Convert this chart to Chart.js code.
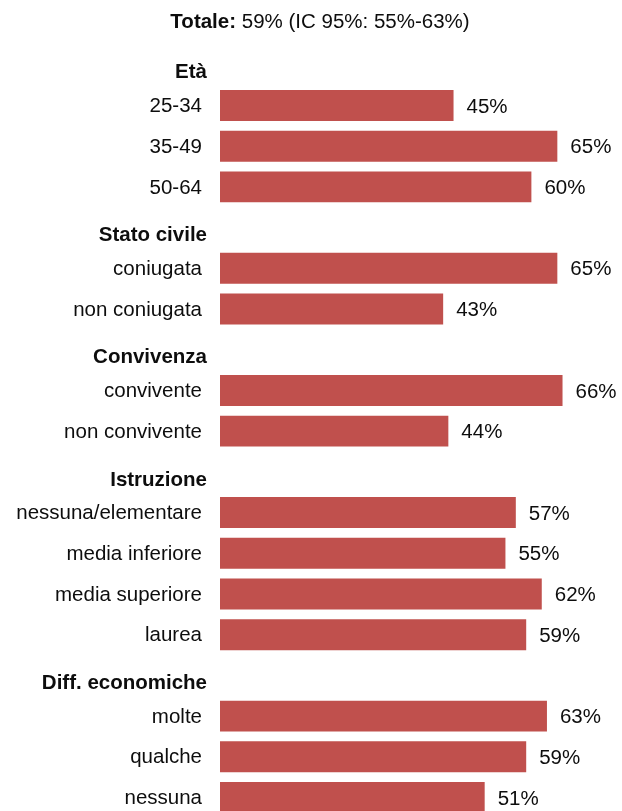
<!DOCTYPE html>
<html>
<head>
<meta charset="utf-8">
<script src="https://cdn.jsdelivr.net/npm/chart.js@4.4.0/dist/chart.umd.min.js"></script>
<style>
  html, body { margin: 0; padding: 0; background: #ffffff; overflow: hidden; }
  #wrap { position: relative; width: 622px; height: 822px; }
</style>
</head>
<body>
<div id="wrap"><canvas id="c"></canvas></div>
<script>
// ---- data ----
const categories = ["Età", "25-34", "35-49", "50-64",
  "Stato civile", "coniugata", "non coniugata",
  "Convivenza", "convivente", "non convivente",
  "Istruzione", "nessuna/elementare", "media inferiore", "media superiore", "laurea",
  "Diff. economiche", "molte", "qualche", "nessuna"];
const values = [null, 45, 65, 60,
  null, 65, 43,
  null, 66, 44,
  null, 57, 55, 62, 59,
  null, 63, 59, 51];
const isHeader = [true, false, false, false,
  true, false, false,
  true, false, false,
  true, false, false, false, false,
  true, false, false, false];
const titleBold = "Totale:";
const titleRest = " 59% (IC 95%: 55%-63%)";

const FONT = "'Liberation Sans', Arial, sans-serif";
const FS = "20.5px ";
const BAR = "#C0504D";
const TEXT = "#0d0d0d";

const labelsPlugin = {
  id: 'customLabels',
  afterDatasetsDraw(chart) {
    const ctx = chart.ctx;
    const y = chart.scales.y;
    const meta = chart.getDatasetMeta(0);
    ctx.save();
    ctx.textBaseline = 'middle';
    ctx.fillStyle = TEXT;
    // category labels
    categories.forEach((c, i) => {
      const py = y.getPixelForValue(i);
      ctx.textAlign = 'right';
      if (isHeader[i]) {
        ctx.font = "bold " + FS + FONT;
        ctx.fillText(c, 207, py + 8);
      } else {
        ctx.font = FS + FONT;
        ctx.fillText(c, 202, py + 1);
      }
    });
    // value labels
    meta.data.forEach((bar, i) => {
      if (values[i] == null) return;
      ctx.font = FS + FONT;
      ctx.textAlign = 'left';
      ctx.fillText(values[i] + "%", bar.x + 13, bar.y + 1.5);
    });
    // title
    ctx.font = "bold " + FS + FONT;
    const wb = ctx.measureText(titleBold).width;
    ctx.font = FS + FONT;
    const wr = ctx.measureText(titleRest).width;
    const x0 = 320 - (wb + wr) / 2;
    ctx.textAlign = 'left';
    ctx.font = "bold " + FS + FONT;
    ctx.fillText(titleBold, x0, 22);
    ctx.font = FS + FONT;
    ctx.fillText(titleRest, x0 + wb, 22);
    ctx.restore();
  }
};

new Chart(document.getElementById('c'), {
  type: 'bar',
  data: {
    labels: categories,
    datasets: [{
      data: values,
      backgroundColor: BAR,
      borderWidth: 0,
      categoryPercentage: 0.76,
      barPercentage: 1.0
    }]
  },
  options: {
    indexAxis: 'y',
    responsive: true,
    maintainAspectRatio: false,
    animation: false,
    layout: { padding: { left: 0, right: 0, top: 44.4, bottom: 4.1 } },
    plugins: {
      legend: { display: false },
      title: { display: false },
      tooltip: { enabled: false }
    },
    scales: {
      x: {
        display: false,
        min: 0,
        max: 77.46
      },
      y: {
        display: true,
        grid: { display: false, drawTicks: false },
        border: { display: false },
        ticks: { display: false },
        afterFit(scale) { scale.width = 220; }
      }
    }
  },
  plugins: [labelsPlugin]
});
</script>
</body>
</html>
